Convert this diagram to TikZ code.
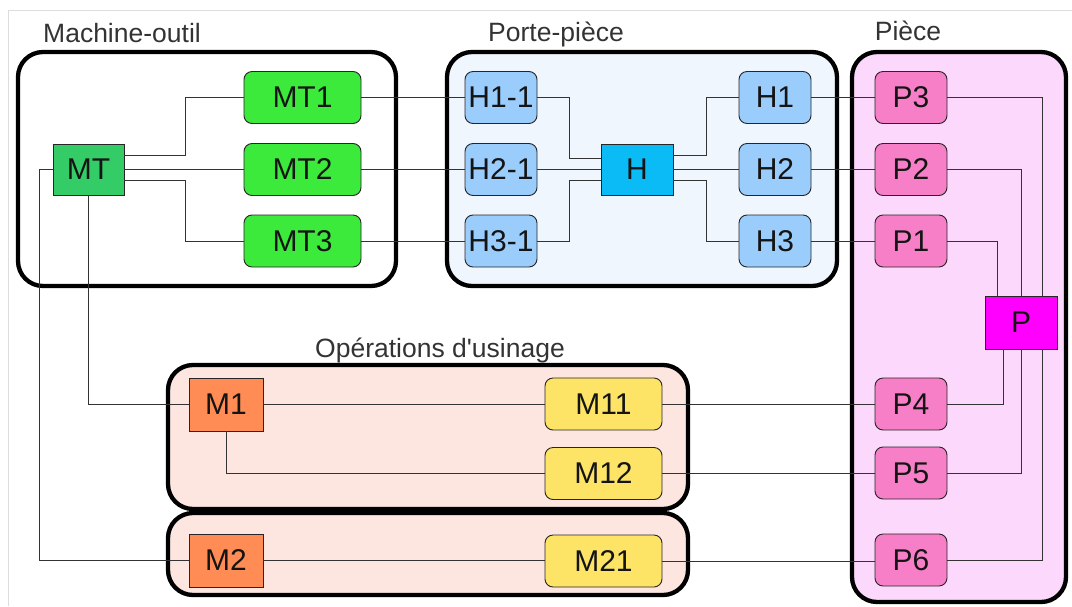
\documentclass[tikz,border=0pt]{standalone}
\usepackage{fontspec}
\setmainfont{Liberation Sans}[Ligatures=TeXOff]
\definecolor{mtdark}{HTML}{33CC66}
\definecolor{mtgreen}{HTML}{3BEA3B}
\definecolor{hblue}{HTML}{0BBBF5}
\definecolor{hlight}{HTML}{9ACCFC}
\definecolor{pmag}{HTML}{FF00FF}
\definecolor{ppink}{HTML}{F77FC8}
\definecolor{morange}{HTML}{FF8C55}
\definecolor{myellow}{HTML}{FDE466}
\definecolor{fillporte}{HTML}{EFF6FD}
\definecolor{fillpiece}{HTML}{FCD8FC}
\definecolor{fillops}{HTML}{FDE6DF}
\definecolor{framegray}{HTML}{DDDDDD}
\definecolor{linegray}{HTML}{333333}
\begin{document}
\begin{tikzpicture}[x=1pt,y=-1pt,
  groupbox/.style={draw=black,line width=4.3pt,rounded corners=25pt},
  grouplabel/.style={font=\fontsize{26.5}{29}\selectfont,text=black!80,anchor=base,inner sep=0pt},
  item/.style={draw=black!85,line width=0.9pt,rounded corners=8pt,minimum height=52pt,inner sep=0pt,
    font=\fontsize{30}{32}\selectfont,text=black!92},
  sqitem/.style={draw=black!85,line width=0.9pt,minimum height=52pt,inner sep=0pt,
    font=\fontsize{30}{32}\selectfont,text=black!92},
  conn/.style={draw=linegray,line width=1pt}]
\useasboundingbox (0,0) rectangle (1072,606);
% frame lines
\draw[framegray,line width=1pt] (8,606) -- (8,10) -- (1072,10);
% group boxes
\draw[groupbox,fill=white] (18,52) rectangle (396,286);
\draw[groupbox,fill=fillporte] (447,52) rectangle (837,286);
\draw[groupbox,fill=fillpiece] (852,52) rectangle (1066,602);
\draw[groupbox,fill=fillops] (168,365) rectangle (688,509);
\draw[groupbox,fill=fillops] (168,513) rectangle (688,595);
% group labels
\node[grouplabel] (lmo) at (122,42) {Machine-outil};
\node[grouplabel] (lpp) at (556,41) {Porte-pièce};
\node[grouplabel] (lpi) at (908,40) {Pièce};
\node[grouplabel] (lop) at (440,357) {Opérations d'usinage};
% Machine-outil
\node[sqitem,fill=mtdark,minimum width=71pt,minimum height=51pt] (MT) at (88.5,169.5) {MT};
\node[item,fill=mtgreen,minimum width=117pt] (MT1) at (302.5,97.5) {MT1};
\node[item,fill=mtgreen,minimum width=117pt] (MT2) at (302.5,169.5) {MT2};
\node[item,fill=mtgreen,minimum width=117pt] (MT3) at (302.5,241) {MT3};
% Porte-piece
\node[item,fill=hlight,minimum width=72pt] (H11) at (501,97.5) {H1-1};
\node[item,fill=hlight,minimum width=72pt] (H21) at (501,169.5) {H2-1};
\node[item,fill=hlight,minimum width=72pt] (H31) at (501,241) {H3-1};
\node[sqitem,fill=hblue,minimum width=72pt,minimum height=51pt] (H) at (637,169.5) {H};
\node[item,fill=hlight,minimum width=72pt] (H1) at (775,97.5) {H1};
\node[item,fill=hlight,minimum width=72pt] (H2) at (775,169.5) {H2};
\node[item,fill=hlight,minimum width=72pt] (H3) at (775,241) {H3};
% Piece
\node[item,fill=ppink,minimum width=72pt] (P3) at (911,97.5) {P3};
\node[item,fill=ppink,minimum width=72pt] (P2) at (911,169.5) {P2};
\node[item,fill=ppink,minimum width=72pt] (P1) at (911,241) {P1};
\node[sqitem,fill=pmag,minimum width=72pt,minimum height=53pt] (P) at (1021,322.5) {P};
\node[item,fill=ppink,minimum width=72pt] (P4) at (911,404) {P4};
\node[item,fill=ppink,minimum width=72pt] (P5) at (911,473) {P5};
\node[item,fill=ppink,minimum width=72pt] (P6) at (911,560) {P6};
% Operations
\node[sqitem,fill=morange,minimum width=74pt,minimum height=53pt] (M1) at (226,404.5) {M1};
\node[sqitem,fill=morange,minimum width=74pt,minimum height=53pt] (M2) at (226,560.5) {M2};
\node[item,fill=myellow,minimum width=117pt] (M11) at (603.5,404) {M11};
\node[item,fill=myellow,minimum width=117pt] (M12) at (603.5,473.5) {M12};
\node[item,fill=myellow,minimum width=117pt] (M21) at (603.5,561) {M21};
% connectors
\draw[conn] ([yshift=14.5pt]MT.east) -- ++(61,0) |- (MT1.west);
\draw[conn] (MT.east) -- (MT.east -| MT2.west);
\draw[conn] ([yshift=-10.5pt]MT.east) -- ++(61,0) |- (MT3.west);
\draw[conn] (MT.south) |- (M1.west);
\draw[conn] (MT.west) -- ++(-13,0) |- (M2.west);
\draw[conn] (MT1.east) -- (MT1.east -| H11.west);
\draw[conn] (MT2.east) -- (MT2.east -| H21.west);
\draw[conn] (MT3.east) -- (MT3.east -| H31.west);
\draw[conn] (H11.east) -- ++(32,0) |- ([yshift=11.5pt]H.west);
\draw[conn] (H21.east) -- (H21.east -| H.west);
\draw[conn] (H31.east) -- ++(32,0) |- ([yshift=-10.5pt]H.west);
\draw[conn] ([yshift=14.5pt]H.east) -- ++(33,0) |- (H1.west);
\draw[conn] (H.east) -- (H.east -| H2.west);
\draw[conn] ([yshift=-10.5pt]H.east) -- ++(33,0) |- (H3.west);
\draw[conn] (H1.east) -- (H1.east -| P3.west);
\draw[conn] (H2.east) -- (H2.east -| P2.west);
\draw[conn] (H3.east) -- (H3.east -| P1.west);
\draw[conn] (P3.east) -| ([xshift=21pt]P.north);
\draw[conn] (P2.east) -| (P.north);
\draw[conn] (P1.east) -| ([xshift=-24pt]P.north);
\draw[conn] ([xshift=-18pt]P.south) |- (P4.east);
\draw[conn] (P.south) |- (P5.east);
\draw[conn] ([xshift=21pt]P.south) |- (P6.east);
\draw[conn] (M1.east) -- (M1.east -| M11.west);
\draw[conn] (M1.south) |- (M12.west);
\draw[conn] (M2.east) -- (M2.east -| M21.west);
\draw[conn] (M11.east) -- (M11.east -| P4.west);
\draw[conn] (M12.east) -- (M12.east -| P5.west);
\draw[conn] (M21.east) -- (M21.east -| P6.west);
\end{tikzpicture}
\end{document}
